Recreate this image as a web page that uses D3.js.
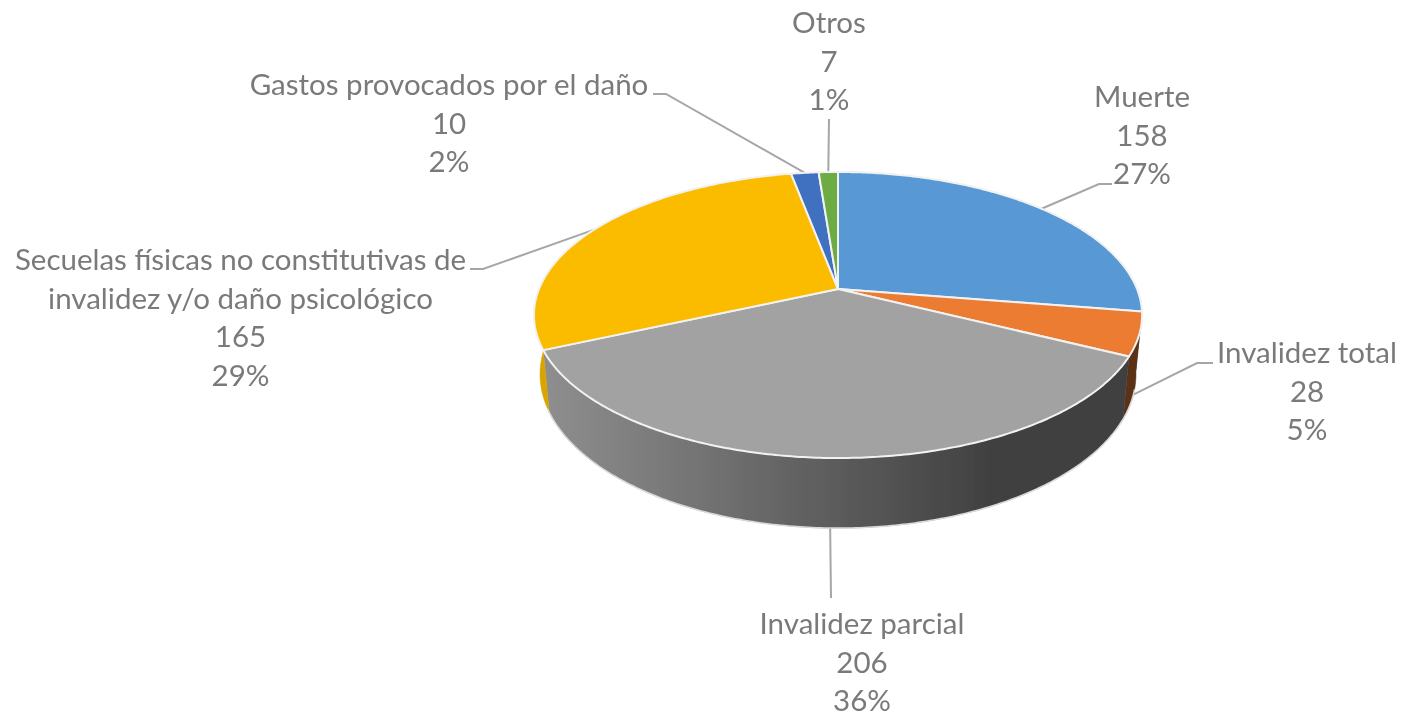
<!DOCTYPE html>
<html lang="es">
<head>
<meta charset="utf-8">
<script src="https://cdn.jsdelivr.net/npm/d3@7"></script>
<style>
  html, body { margin: 0; padding: 0; background: #fff; }
  svg { display: block; }
</style>
</head>
<body>
<svg id="canvas"></svg>
<script>
let categories = ['Muerte', 'Invalidez total', 'Invalidez parcial', 'Secuelas físicas no constitutivas de\ninvalidez y/o daño psicológico', 'Gastos provocados por el daño', 'Otros']
let values = [158, 28, 206, 165, 10, 7]
let percents = ['27%', '5%', '36%', '29%', '2%', '1%']
let colors = ['#5898d4', '#eb7b30', '#a2a2a2', '#fbbc00', '#406fc0', '#6dab45']

let width = 1401
let height = 717

// label placement: centre x and first baseline, then the elbow of each leader line
let labelX = [1142, 1307, 862, 240.5, 449, 829]
let labelY = [107, 363, 634, 270, 95, 33]
let elbows = [
  [[1112, 184], [1099, 184]],
  [[1213, 363], [1197, 363]],
  [[831, 598]],
  [[470, 269], [483, 269]],
  [[653, 94], [666, 94]],
  [[829, 119]]
]
// leader line lands on the lower rim for these slices
let lowerRim = [false, true, true, false, false, false]

let lineGap = 38.7

// the disc is a tilted circle seen in perspective
let cx = 838
let cy = 289
let rx = 299
let ry = 138.3
let tilt = 0.1818
let depth = 57.3
let shrink = 0.98

let canvas = d3.select('#canvas').attr('width', width).attr('height', height)

let top3d = (a) => {
  let w = 1 + tilt * Math.cos(a)
  return [cx + rx * Math.sin(a) / w, cy - ry * Math.cos(a) / w]
}

let bottom3d = (a) => {
  let w = 1 + tilt * Math.cos(a)
  let p = top3d(a)
  return [cx + (p[0] - cx) * shrink, p[1] + depth / w]
}

let pie = d3.pie().sort(null).value((d) => d)
let slices = pie(values)

let line = d3.line()

let arcAngles = (a0, a1) => {
  let n = Math.max(2, Math.ceil((a1 - a0) * 90))
  return d3.range(n + 1).map((i) => a0 + (a1 - a0) * i / n)
}

let defs = canvas.append('defs')

// the reference is a slightly soft screenshot
defs.append('filter')
  .attr('id', 'soft')
  .append('feGaussianBlur')
  .attr('stdDeviation', 0.5)

// sides get darker from left to right
let shade = d3.scaleLinear().domain([552, 1000]).range([0.87, 0.39]).clamp(true)
let dim = (c, f) => {
  let col = d3.rgb(c)
  return d3.rgb(col.r * f, col.g * f, col.b * f).formatHex()
}

colors.forEach((c, i) => {
  let grad = defs.append('linearGradient')
    .attr('id', 'side' + i)
    .attr('gradientUnits', 'userSpaceOnUse')
    .attr('x1', shade.domain()[0]).attr('x2', shade.domain()[1])
    .attr('y1', 0).attr('y2', 0)
  grad.append('stop').attr('offset', '0%').attr('stop-color', dim(c, shade.range()[0]))
  grad.append('stop').attr('offset', '100%').attr('stop-color', dim(c, shade.range()[1]))
})

let chart = canvas.append('g').attr('filter', 'url(#soft)')

let drawLeaders = () => {
  chart.append('g')
    .selectAll('path')
    .data(slices)
    .enter()
    .append('path')
    .attr('fill', 'none')
    .attr('stroke', '#a6a6a6')
    .attr('stroke-width', 2)
    .attr('d', (d, i) => {
      let mid = (d.startAngle + d.endAngle) / 2
      let end = lowerRim[i] ? bottom3d(mid) : top3d(mid)
      return line([...elbows[i], end])
    })
}

let drawSides = () => {
  chart.append('g')
    .selectAll('path')
    .data(slices)
    .enter()
    .append('path')
    .attr('fill', (d, i) => `url(#side${i})`)
    .attr('stroke', (d, i) => `url(#side${i})`)
    .attr('stroke-width', 0.5)
    .attr('d', (d) => {
      let angles = arcAngles(d.startAngle, d.endAngle)
      return line([...angles.map(top3d), ...angles.reverse().map(bottom3d)]) + 'Z'
    })

  // pale rim under the disc
  chart.append('path')
    .attr('fill', 'none')
    .attr('stroke', '#d9d9d9')
    .attr('stroke-width', 1.5)
    .attr('d', line(arcAngles(slices[1].startAngle + 0.12, slices[3].startAngle + 0.02).map(bottom3d)))
}

let drawTops = () => {
  chart.append('g')
    .selectAll('path')
    .data(slices)
    .enter()
    .append('path')
    .attr('fill', (d, i) => colors[i])
    .attr('stroke', '#f2f2f2')
    .attr('stroke-width', 2)
    .attr('stroke-linejoin', 'round')
    .attr('d', (d) => line([[cx, cy], ...arcAngles(d.startAngle, d.endAngle).map(top3d)]) + 'Z')
}

let drawLabels = () => {
  let groups = chart.append('g')
    .attr('font-family', 'Lato, Carlito, sans-serif')
    .attr('font-size', 29.5)
    .attr('fill', '#7a7a7a')
    .attr('text-anchor', 'middle')
    .selectAll('text')
    .data(categories)
    .enter()
    .append('text')

  groups.each(function (name, i) {
    let rows = [...name.split('\n'), String(values[i]), percents[i]]
    d3.select(this)
      .selectAll('tspan')
      .data(rows)
      .enter()
      .append('tspan')
      .attr('x', labelX[i])
      .attr('y', (r, j) => labelY[i] + j * lineGap)
      .text((r) => r)
  })
}

drawLeaders()
drawSides()
drawTops()
drawLabels()
</script>
</body>
</html>
